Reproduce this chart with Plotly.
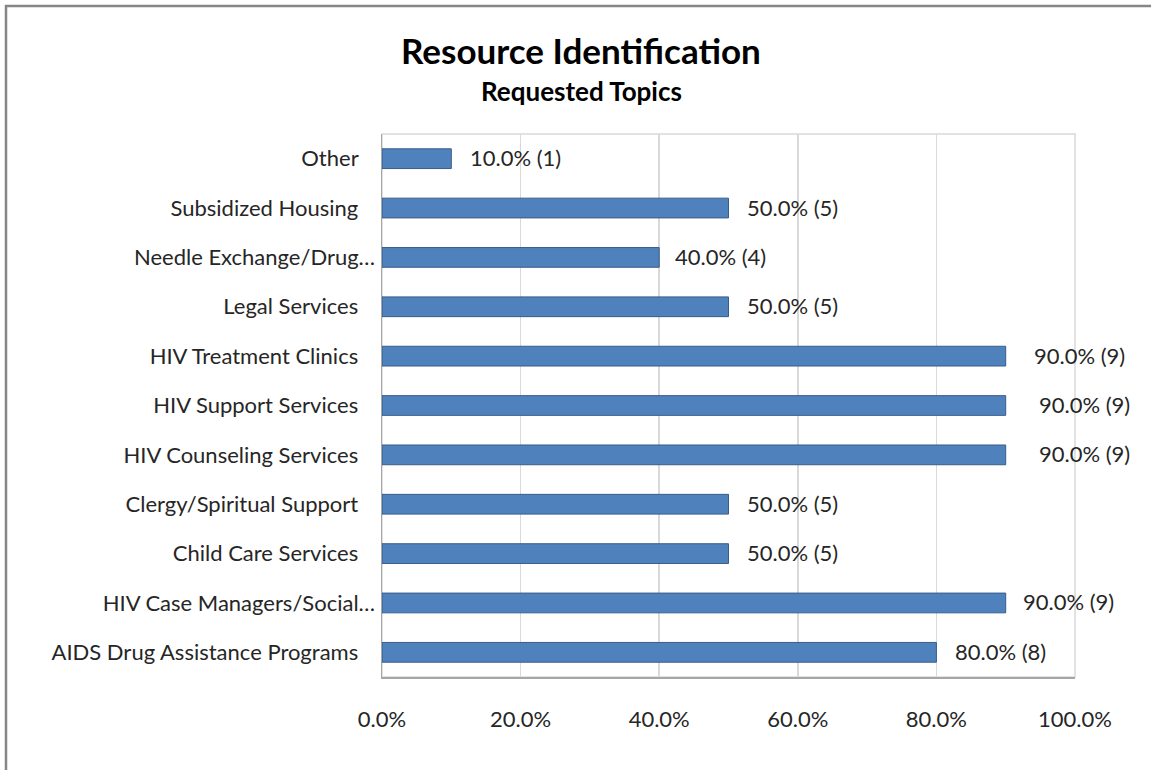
import plotly.graph_objects as go

# ---- data (bottom to top, as drawn) ----
categories = [
    "AIDS Drug Assistance Programs",
    "HIV Case Managers/Social…",
    "Child Care Services",
    "Clergy/Spiritual Support",
    "HIV Counseling Services",
    "HIV Support Services",
    "HIV Treatment Clinics",
    "Legal Services",
    "Needle Exchange/Drug…",
    "Subsidized Housing",
    "Other",
]
percent = [80.0, 90.0, 50.0, 50.0, 90.0, 90.0, 90.0, 50.0, 40.0, 50.0, 10.0]
counts = [8, 9, 5, 5, 9, 9, 9, 5, 4, 5, 1]
title_text = "Resource Identification"
subtitle_text = "Requested Topics"

# ---- styling ----
FONT = "Lato"
W, H = 1151, 770
L, R, T, B = 382, 1075, 134, 677
label_nudge = [17, 15, 16, 16, 31, 31, 26, 16, 14, 16, 17]

frac = [p / 100 for p in percent]
display = [c if c.endswith("…") else c + "\u00a0" * 3 for c in categories]

fig = go.Figure()
fig.add_trace(go.Bar(
    x=frac, y=categories, orientation="h",
    marker=dict(color="#4F81BD", line=dict(color="#385D8A", width=1)),
    width=0.4, hoverinfo="skip",
))

pw, ph = R - L, B - T
def px_x(x):
    return (x - L) / pw
def px_y(y):
    return (B - y) / ph

annotations = []
for f, p, n, c, dx in zip(frac, percent, counts, categories, label_nudge):
    annotations.append(dict(
        x=f, y=c, xref="x", yref="y", text=f"{p:.1f}% ({n})",
        showarrow=False, xanchor="left", yanchor="middle", xshift=dx, yshift=1,
        font=dict(family=FONT, size=22, color="#262626"),
    ))
annotations.append(dict(
    x=px_x(581), y=px_y(50), xref="paper", yref="paper", text=title_text,
    showarrow=False, xanchor="center", yanchor="middle",
    font=dict(family=FONT, size=35, color="#000000", weight="bold"),
))
annotations.append(dict(
    x=px_x(581), y=px_y(91), xref="paper", yref="paper", text=subtitle_text,
    showarrow=False, xanchor="center", yanchor="middle",
    font=dict(family=FONT, size=26, color="#000000", weight="bold"),
))

shapes = [
    # outer chart frame
    dict(type="rect", xref="paper", yref="paper",
         x0=px_x(6), x1=px_x(1165), y0=px_y(785), y1=px_y(6),
         line=dict(color="#868686", width=2.5), layer="below"),
    # plot area border (top/right)
    dict(type="rect", xref="paper", yref="paper", x0=0, x1=1, y0=0, y1=1,
         line=dict(color="#D9D9D9", width=1.5), layer="below"),
]

fig.update_layout(
    width=W, height=H,
    margin=dict(l=L, r=W - R, t=T, b=H - B, pad=0),
    paper_bgcolor="white", plot_bgcolor="white",
    showlegend=False,
    annotations=annotations, shapes=shapes,
    font=dict(family=FONT, size=22, color="#262626"),
)
fig.update_xaxes(
    range=[0, 1], dtick=0.2, tick0=0, tickformat=".1%",
    showgrid=True, gridcolor="#D9D9D9", gridwidth=1.5,
    showline=True, linecolor="#A6A6A6", linewidth=1.5,
    ticks="", ticklabelstandoff=22, zeroline=False,
    tickfont=dict(family=FONT, size=22, color="#262626"), fixedrange=True,
)
fig.update_yaxes(
    type="category", tickmode="array", tickvals=categories, ticktext=display,
    showline=True, linecolor="#A6A6A6", linewidth=1.5, showgrid=False,
    ticks="", ticklabelstandoff=1, range=[-0.5, len(categories) - 0.5],
    tickfont=dict(family=FONT, size=22, color="#262626"), fixedrange=True,
)

fig.write_html(
    "out.html",
    config={"displayModeBar": False, "staticPlot": True},
    post_script="document.body.style.margin='0';document.body.style.overflow='hidden';",
)
